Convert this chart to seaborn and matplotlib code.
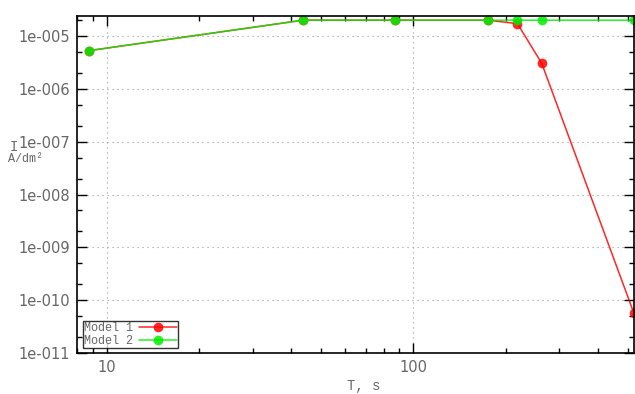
import matplotlib
matplotlib.use("Agg")
import matplotlib.pyplot as plt
import matplotlib.ticker as mticker
import numpy as np
import pandas as pd
import seaborn as sns

# Time points (s) and current density (A/dm^2) for the two models
time_s = [8.75, 43.75, 87.5, 175, 218.75, 262.5, 525]
model1_current = [5.3e-6, 2.0e-5, 2.0e-5, 2.0e-5, 1.72e-5, 3.05e-6, 5.6e-11]
model2_current = [5.3e-6, 2.0e-5, 2.0e-5, 2.0e-5, 2.0e-5, 2.0e-5, 2.0e-5]
series_names = ["Model 1", "Model 2"]
series_colors = ["#ff0000", "#00ee00"]

df = pd.DataFrame({
    "T": time_s * 2,
    "I": model1_current + model2_current,
    "model": [series_names[0]] * len(time_s) + [series_names[1]] * len(time_s),
})

sns.set_theme(style="white")
plt.rcParams["font.family"] = ["DejaVu Sans"]

fig = plt.figure(figsize=(6.35, 3.94), dpi=100)
ax = fig.add_axes([77 / 635, 41 / 394, 557 / 635, 337 / 394])

sns.lineplot(
    data=df, x="T", y="I", hue="model", hue_order=series_names,
    palette=series_colors, marker="o", markersize=7, markeredgewidth=0,
    linewidth=1.1, ax=ax, legend=False, estimator=None, sort=False,
)
for line in ax.lines:
    line.set_alpha(0.85)
    line.set_clip_on(False)

ax.set_xscale("log")
ax.set_yscale("log")
ax.set_xlim(8.0, 525)
ax.set_ylim(1e-11, 2.4e-5)

ax.yaxis.set_major_locator(mticker.LogLocator(base=10, numticks=20))
ax.yaxis.set_minor_locator(mticker.LogLocator(base=10, subs=[2, 5], numticks=20))
ax.yaxis.set_major_formatter(mticker.FuncFormatter(
    lambda v, p: "1e-%03d" % int(round(-np.log10(v)))))
ax.yaxis.set_minor_formatter(mticker.NullFormatter())
ax.xaxis.set_major_locator(mticker.LogLocator(base=10, numticks=10))
ax.xaxis.set_minor_locator(mticker.LogLocator(base=10, subs=np.arange(2, 10), numticks=10))
ax.xaxis.set_major_formatter(mticker.FuncFormatter(lambda v, p: "%d" % v))
ax.xaxis.set_minor_formatter(mticker.NullFormatter())

ax.tick_params(which="both", direction="in", top=True, right=True,
               bottom=True, left=True, color="black", width=1.0)
ax.tick_params(which="major", length=7, labelsize=10.5, labelcolor="#666666", pad=5)
ax.tick_params(which="minor", length=3.5)

for s in ax.spines.values():
    s.set_color("black")
    s.set_linewidth(1.2)

ax.grid(True, which="major", linestyle=(0, (1, 3.5)), color="#999999", linewidth=0.8)
ax.set_xlabel("")
ax.set_ylabel("")

mono = ["Liberation Mono", "DejaVu Sans Mono"]
fig.text(347 / 635, 1 - 386 / 394, "T, s", family=mono, fontsize=10,
         color="#666666", ha="left", va="center")
fig.text(14 / 635, 1 - 147 / 394, "I", family=mono, fontsize=10,
         color="#666666", ha="center", va="center")
fig.text(8 / 635, 1 - 159 / 394, "A/dm²", family=mono, fontsize=8.5,
         color="#666666", ha="left", va="center")

handles = [
    plt.Line2D([], [], color=c, marker="o", markersize=7, markeredgewidth=0,
               linewidth=1.1, alpha=0.85)
    for c in series_colors
]
leg = ax.legend(handles, series_names, loc="lower left",
                bbox_to_anchor=(0.011, 0.015), frameon=True, fancybox=False,
                borderpad=0.1, labelspacing=0.05, handlelength=3.2,
                handletextpad=0.5, borderaxespad=0,
                prop={"family": mono, "size": 8.5}, markerfirst=False)
leg.get_frame().set_edgecolor("black")
leg.get_frame().set_linewidth(1.0)
for t in leg.get_texts():
    t.set_color("#666666")

fig.savefig("out.png", dpi=100)
